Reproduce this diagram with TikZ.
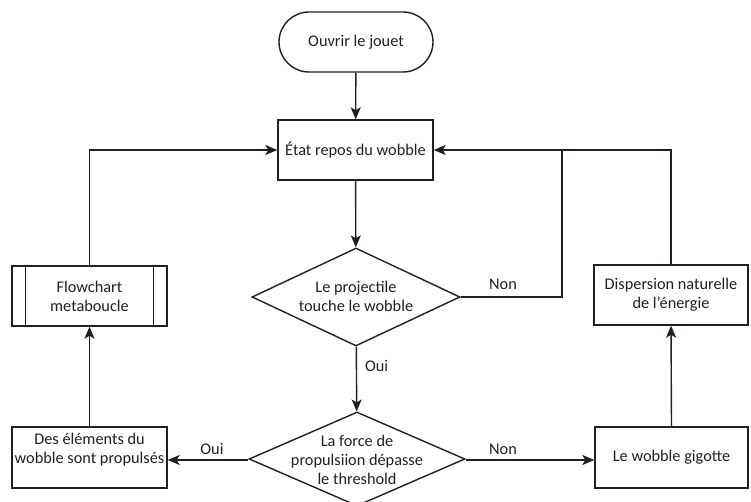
\documentclass[tikz,border=0pt]{standalone}
\usepackage{fontspec}
\setmainfont{Carlito}
\usetikzlibrary{shapes.geometric,arrows.meta,calc}
\definecolor{ink}{HTML}{231F20}
\begin{document}
\begin{tikzpicture}[x=1pt,y=-1pt,
  every node/.style={font=\fontsize{16.3}{19}\selectfont, text=ink},
  line/.style={draw=ink, line width=1.4pt},
  arr/.style={line, -{Stealth[length=12pt,width=10pt,inset=3pt]}},
  term/.style={line, rectangle, rounded corners=30pt, minimum width=154pt, minimum height=60pt, inner sep=0pt},
  box/.style={line, rectangle, minimum width=155pt, minimum height=60pt, inner sep=0pt, align=center},
  dec/.style={line, diamond, inner sep=0pt},
  txt/.style={align=center, inner sep=0pt},
  lab/.style={inner sep=0pt}
]
\useasboundingbox (0,0) rectangle (751,502);

\node[term] (start) at (356,42) {Ouvrir le jouet};
\node[box] (etat) at (355.5,150) {État repos du wobble};
\node[dec, minimum width=208pt, minimum height=98pt] (d1) at (356,297) {};
\node[txt] (d1t) at (356,296) {Le projectile\\touche le wobble};
\node[dec, minimum width=216pt, minimum height=94pt] (d2) at (357,459) {};
\node[txt] (d2t) at (357,460) {La force de\\propulsiion dépasse\\le threshold};

\node[box] (fc) at (89.5,296) {Flowchart\\metaboucle};
\draw[line] ([xshift=14pt]fc.north west) -- ([xshift=14pt]fc.south west);
\draw[line] ([xshift=-14pt]fc.north east) -- ([xshift=-14pt]fc.south east);
\node[box, minimum height=61pt] (des) at (89.5,457.5) {};
\node[txt] (dest) at (89.5,450) {Des éléments du\\wobble sont propulsés};
\node[box, minimum width=153pt, minimum height=61pt] (gig) at (671.5,457.5) {Le wobble gigotte};
\node[box, minimum width=154pt] (disp) at (671,295) {Dispersion naturelle\\de l’énergie};

\coordinate (j1) at (562,150);
\coordinate (d2w) at ($(d2.west)+(0,1)$);
\coordinate (d2e) at ($(d2.east)+(0,1)$);

\draw[arr] (start) -- (etat);
\draw[arr] (etat) -- (d1);
\draw[arr] (d1) -- (d2) node[lab, pos=0.3, right=8pt] (oui1) {Oui};
\draw[line] (d1.east) -| (j1);
\node[lab] (non1) at (503,284) {Non};
\draw[arr] (disp.north) |- (etat.east);
\draw[arr] (fc.north) |- (etat.west);
\draw[arr] (des.north) -- (fc.south);
\draw[arr] (gig.north) -- (disp.south);
\draw[arr] (d2w) -- (d2w -| des.east);
\node[lab] (oui2) at (212,449) {Oui};
\draw[arr] (d2e) -- (d2e -| gig.west);
\node[lab] (non2) at (503,449) {Non};
\end{tikzpicture}
\end{document}
